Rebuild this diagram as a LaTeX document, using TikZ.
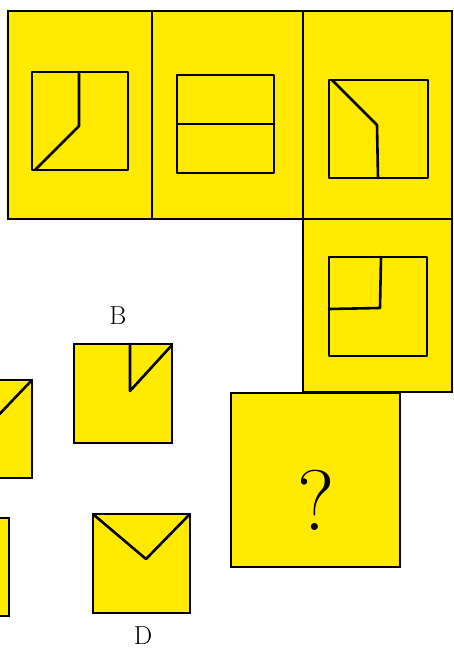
\documentclass[tikz,border=0pt]{standalone}
\definecolor{puzzleyellow}{RGB}{255,234,0}
\tikzset{
  panel/.style={draw=black, line width=2.3pt, fill=puzzleyellow},
  fig/.style={draw=black, line width=2.6pt, line join=round, line cap=round},
  figbox/.style={draw=black, line width=2.6pt, fill=puzzleyellow},
  lbl/.style={inner sep=0pt, font=\fontsize{26}{26}\selectfont}
}
\begin{document}
\begin{tikzpicture}[x=1pt, y=-1pt]
\useasboundingbox (0,0) rectangle (454,650);
% top row panels
\draw[panel] (8,11) rectangle (152,219);
\draw[panel] (152,11) rectangle (303,219);
\draw[panel] (303,11) rectangle (452,219);
\draw[panel] (303,219) rectangle (452,392);
% panel 1
\draw[fig] (32,72) rectangle (128,170);
\draw[fig] (79,72) -- (79,126) -- (35,170);
% panel 2
\draw[fig] (177,75) rectangle (274,173);
\draw[fig] (177,124) -- (274,124);
% panel 3
\draw[fig] (329,80) rectangle (428,178);
\draw[fig] (332,80) -- (377,125) -- (378,178);
% panel 4
\draw[fig] (329,257) rectangle (427,356);
\draw[fig] (381,257) -- (380,308) -- (329,309);
% question panel
\draw[draw=black, line width=1.6pt, fill=puzzleyellow] (231,393) rectangle (400,567);
\node[inner sep=0pt, font=\fontsize{86}{86}\selectfont] (q) at (316,500) {?};
% option A (partly visible)
\draw[figbox] (-70,380) rectangle (32,478);
\draw[fig] (32,380) -- (-10,424);
% option B
\node[lbl] (labB) at (118,316) {B};
\draw[figbox] (74,344) rectangle (172,443);
\draw[fig] (130,344) -- (130,391) -- (172,345);
% option C (partly visible)
\draw[figbox] (-90,518) rectangle (9,616);
% option D
\draw[figbox] (93,514) rectangle (190,613);
\draw[fig] (94,515) -- (146,559) -- (189,515);
\node[lbl] (labD) at (143,636) {D};
\end{tikzpicture}
\end{document}
